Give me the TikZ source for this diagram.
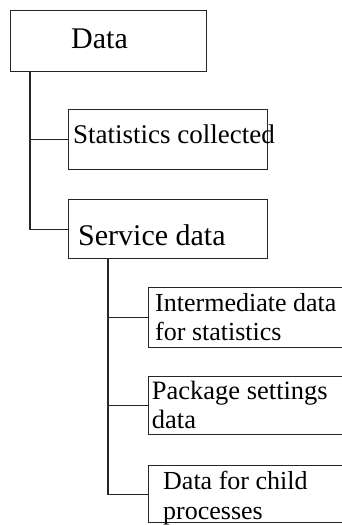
\documentclass[tikz,border=0pt]{standalone}
\usepackage{fontspec}
\setmainfont{Liberation Serif}
\begin{document}
\begin{tikzpicture}[x=1pt,y=-1pt,
  box/.style={draw=black!85, line width=1.3pt, rectangle, inner sep=0pt, anchor=north west},
  lbl/.style={inner sep=0pt, anchor=base west},
  mlbl/.style={inner sep=0pt, anchor=north west, align=left},
  conn/.style={draw=black!85, line width=1.3pt}]
\clip (0,0) rectangle (342,525);
\fill[white] (0,0) rectangle (342,525);
% boxes
\node[box, minimum width=196pt, minimum height=61pt] (data) at (10,10) {};
\node[box, minimum width=199pt, minimum height=60pt] (stat) at (68,109) {};
\node[box, minimum width=199pt, minimum height=59pt] (serv) at (68,199) {};
\node[box, minimum width=220pt, minimum height=60pt] (inter) at (148,287) {};
\node[box, minimum width=220pt, minimum height=58pt] (pack) at (148,376) {};
\node[box, minimum width=220pt, minimum height=57pt] (child) at (148,465) {};
% texts
\node[lbl, font=\fontsize{30}{34}\selectfont] (datat) at (71,48) {Data};
\node[lbl, font=\fontsize{27}{31}\selectfont] (statt) at (73,143) {Statistics collected};
\node[lbl, font=\fontsize{30}{34}\selectfont] (servt) at (78,245) {Service data};
\node[mlbl, font=\fontsize{26}{29}\selectfont] (intert) at (155,291.4) {\strut Intermediate data\\for statistics};
\node[mlbl, font=\fontsize{26.5}{29}\selectfont] (packt) at (151.7,378.7) {\strut Package settings\\data};
\node[mlbl, font=\fontsize{26}{30}\selectfont] (childt) at (163,468) {\strut Data for child\\processes};
% connectors
\coordinate (t1) at ([xshift=20pt]data.south west);
\coordinate (t2) at ([xshift=40pt]serv.south west);
\draw[conn] (t1) |- (serv.west);
\draw[conn] (t1 |- stat.west) -- (stat.west);
\draw[conn] (t2) |- (child.west);
\draw[conn] (t2 |- inter.west) -- (inter.west);
\draw[conn] (t2 |- pack.west) -- (pack.west);
\end{tikzpicture}
\end{document}
